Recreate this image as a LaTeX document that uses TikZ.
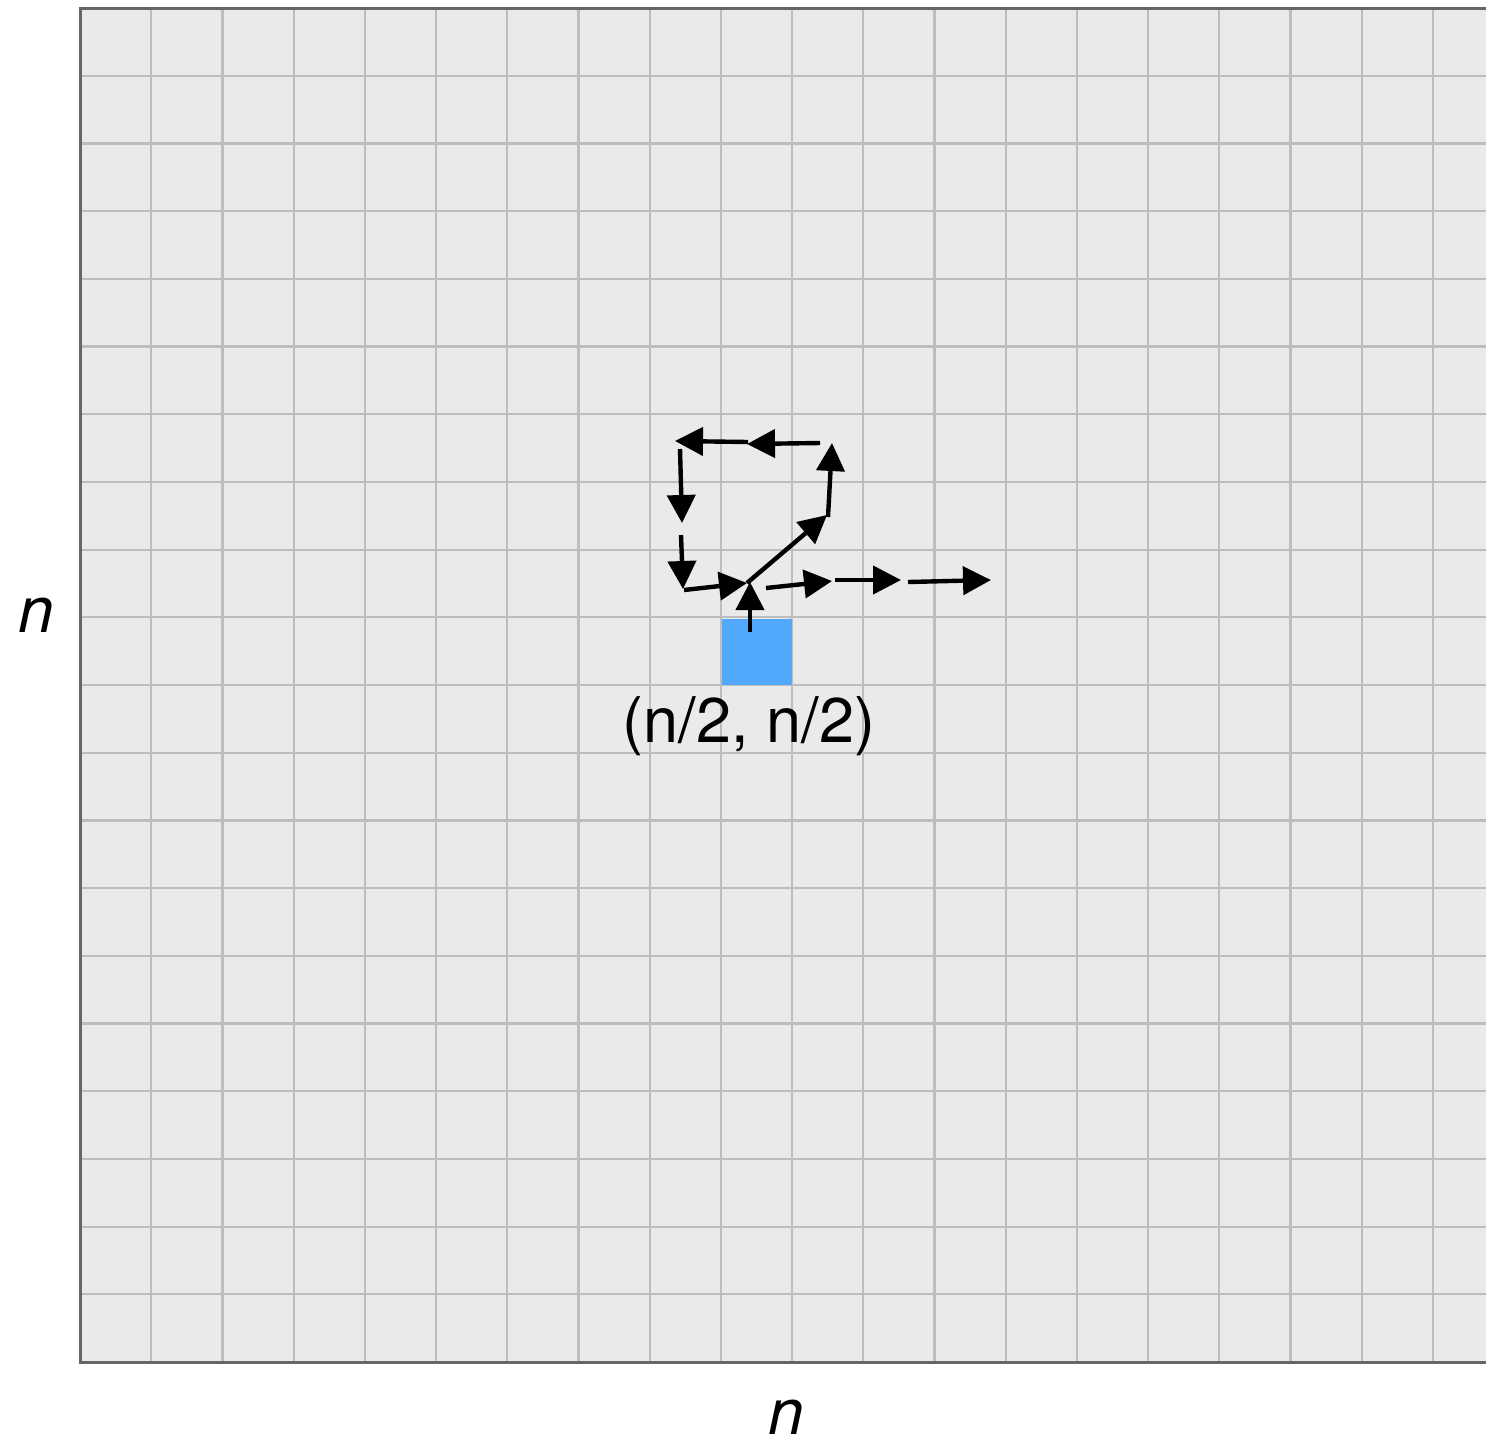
\documentclass[tikz,border=0pt]{standalone}
\usepackage{fontspec}
\setmainfont{TeX Gyre Heros}
\usetikzlibrary{arrows.meta}
\definecolor{gridbg}{HTML}{EAEAEA}
\definecolor{gridln}{HTML}{BDBDBD}
\definecolor{frameln}{HTML}{666666}
\definecolor{cellblue}{HTML}{52A8FD}
\tikzset{
  walk/.style={line width=2.2pt, -{Triangle[length=14pt,width=14pt]}},
  lbl/.style={inner sep=0pt, font=\fontsize{31.5}{36}\selectfont},
  axislbl/.style={inner sep=0pt, font=\fontsize{32}{38}\selectfont\itshape},
}
\begin{document}
\begin{tikzpicture}[x=0.5pt,y=-0.5pt]
\useasboundingbox (0,0) rectangle (1486,1446);
% grid background
\fill[gridbg] (80,8) rectangle (1486,1362);
\foreach \k in {1,...,19} {
  \draw[gridln, line width=1.1pt] ({80+\k*71.2},8) -- ({80+\k*71.2},1362);
  \draw[gridln, line width=1.1pt] (80,{8+\k*67.7}) -- (1486,{8+\k*67.7});
}
% blue cell
\fill[cellblue] (721.5,619) rectangle (791.5,685);
% frame
\draw[frameln, line width=1.5pt] (1486,8) -- (80,8) -- (80,1362) -- (1486,1362);
% labels
\node[lbl, anchor=base] (start) at (749,742) {(n/2, n/2)};
\node[axislbl, anchor=base] (ny) at (36,632) {n};
\node[axislbl, anchor=base] (nx) at (786,1434) {n};
% walk points
\coordinate (a0) at (750,632);
\coordinate (a1) at (750,582);
\coordinate (b0) at (684,590);
\coordinate (b1) at (747,583);
\coordinate (c0) at (681,535);
\coordinate (c1) at (683,589);
\coordinate (d0) at (680,449);
\coordinate (d1) at (682,523);
\coordinate (e0) at (748,442);
\coordinate (e1) at (675,441);
\coordinate (f0) at (820,443);
\coordinate (f1) at (747,444);
\coordinate (g0) at (828,517);
\coordinate (g1) at (832,443);
\coordinate (h0) at (747,583);
\coordinate (h1) at (827,515);
\coordinate (i0) at (766,588);
\coordinate (i1) at (832,581);
\coordinate (j0) at (835,580);
\coordinate (j1) at (901,580);
\coordinate (k0) at (908,582);
\coordinate (k1) at (991,580);
% walk arrows
\draw[walk] (a0) -- (a1);
\draw[walk] (b0) -- (b1);
\draw[walk] (c0) -- (c1);
\draw[walk] (d0) -- (d1);
\draw[walk] (e0) -- (e1);
\draw[walk] (f0) -- (f1);
\draw[walk] (g0) -- (g1);
\draw[walk] (h0) -- (h1);
\draw[walk] (i0) -- (i1);
\draw[walk] (j0) -- (j1);
\draw[walk] (k0) -- (k1);
\end{tikzpicture}
\end{document}
